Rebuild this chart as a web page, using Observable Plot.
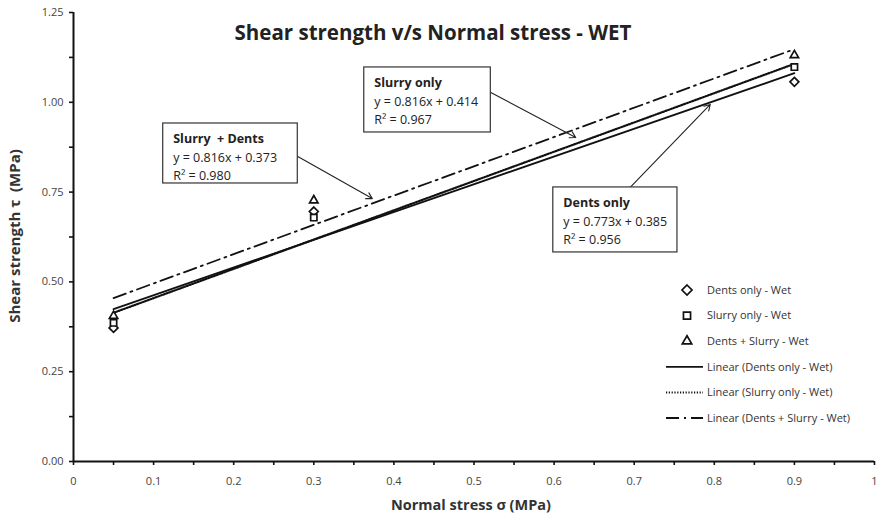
<!DOCTYPE html>
<html>
<head>
<meta charset="utf-8">
<script src="https://cdn.jsdelivr.net/npm/d3@7"></script>
<script src="https://cdn.jsdelivr.net/npm/@observablehq/plot@0.6"></script>
<style>
  html, body { margin: 0; padding: 0; background: #fff; }
  #wrap { position: relative; width: 877px; height: 517px; }
  #wrap svg { position: absolute; left: 0; top: 0; }
</style>
</head>
<body>
<div id="wrap"></div>
<script>
// ---- data ----
const normalStress = [0.05, 0.3, 0.9];
const dentsOnly = [0.372, 0.696, 1.057];
const slurryOnly = [0.386, 0.679, 1.098];
const dentsSlurry = [0.405, 0.727, 1.131];

const trendX = [0.05, 0.9];
const dentsTrend = [0.424, 1.081];
const slurryTrend = [0.414, 1.107];
const comboTrend = [0.455, 1.148];

const xTicks = [0, 0.1, 0.2, 0.3, 0.4, 0.5, 0.6, 0.7, 0.8, 0.9, 1];
const xTickLabels = ["0", "0.1", "0.2", "0.3", "0.4", "0.5", "0.6", "0.7", "0.8", "0.9", "1"];
const yTicks = [0, 0.25, 0.5, 0.75, 1.0, 1.25];
const yTickLabels = ["0.00", "0.25", "0.50", "0.75", "1.00", "1.25"];
const xMinor = [0,0.05,0.1,0.15,0.2,0.25,0.3,0.35,0.4,0.45,0.5,0.55,0.6,0.65,0.7,0.75,0.8,0.85,0.9,0.95,1];
const yMinor = [0,0.125,0.25,0.375,0.5,0.625,0.75,0.875,1,1.125,1.25];

const seriesNames = ["Dents only - Wet", "Slurry only - Wet", "Dents + Slurry - Wet"];
const trendNames = ["Linear (Dents only - Wet)", "Linear (Slurry only - Wet)", "Linear (Dents + Slurry - Wet)"];

// annotation boxes (data units) and their arrows
const annoTitle = ["Slurry only", "Slurry\u00a0 + Dents", "Dents only"];
const annoEq = ["y = 0.816x + 0.414", "y = 0.816x + 0.373", "y = 0.773x + 0.385"];
const annoR2 = ["R\u00b2 = 0.967", "R\u00b2 = 0.980", "R\u00b2 = 0.956"];
const annoBox = [
  {x1: 0.363, x2: 0.521, y1: 0.916, y2: 1.097},
  {x1: 0.112, x2: 0.280, y1: 0.774, y2: 0.941},
  {x1: 0.599, x2: 0.754, y1: 0.582, y2: 0.763}
];
const annoArrow = [
  {x1: 0.521, y1: 1.027, x2: 0.627, y2: 0.902},
  {x1: 0.280, y1: 0.849, x2: 0.373, y2: 0.732},
  {x1: 0.695, y1: 0.763, x2: 0.795, y2: 0.994}
];

// ---- tables ----
const points = [];
normalStress.forEach((x, i) => {
  points.push({x, y: dentsOnly[i], s: seriesNames[0]});
  points.push({x, y: slurryOnly[i], s: seriesNames[1]});
  points.push({x, y: dentsSlurry[i], s: seriesNames[2]});
});
const mkTrend = (arr) => trendX.map((x, i) => ({x, y: arr[i]}));
const annos = annoBox.map((b, i) => ({...b, t: annoTitle[i], eq: annoEq[i], r2: annoR2[i]}));

const font = "'Open Sans', sans-serif";
const symbolOf = {"Dents only - Wet": "diamond2", "Slurry only - Wet": "square2", "Dents + Slurry - Wet": "triangle2"};

const chart = Plot.plot({
  width: 877,
  height: 517,
  marginLeft: 73,
  marginRight: 3,
  marginTop: 12,
  marginBottom: 56,
  style: {fontFamily: font, background: "white", overflow: "visible"},
  x: {domain: [0, 1]},
  y: {domain: [0, 1.25]},
  marks: [
    // minor/major tick marks
    Plot.axisX({ticks: xMinor, tickSize: 4, tickFormat: () => "", label: null, stroke: "#111", strokeWidth: 1.6}),
    Plot.axisY({ticks: yMinor, tickSize: 4, tickFormat: () => "", label: null, stroke: "#111", strokeWidth: 1.6}),
    Plot.axisX({ticks: xTicks, tickSize: 0, tickPadding: 16, tickFormat: (d, i) => xTickLabels[i], label: null, fontSize: 11, fill: "#444"}),
    Plot.axisY({ticks: yTicks, tickSize: 0, tickPadding: 10, tickFormat: (d, i) => yTickLabels[i], label: null, fontSize: 11, fill: "#444"}),
    Plot.ruleY([0], {stroke: "#111", strokeWidth: 2}),
    Plot.ruleX([0], {stroke: "#111", strokeWidth: 2}),
    // trend lines
    Plot.line(mkTrend(dentsTrend), {x: "x", y: "y", stroke: "#111", strokeWidth: 1.8}),
    Plot.line(mkTrend(slurryTrend), {x: "x", y: "y", stroke: "#111", strokeWidth: 2.2, strokeDasharray: "1.2,1.6"}),
    Plot.line(mkTrend(comboTrend), {x: "x", y: "y", stroke: "#111", strokeWidth: 1.8, strokeDasharray: "13,5,2,5"}),
    // points
    Plot.dot(points, {x: "x", y: "y", symbol: d => symbolOf[d.s], r: 4, stroke: "#111", strokeWidth: 1.7, fill: "white"}),
    // annotation arrows
    Plot.arrow(annoArrow, {x1: "x1", y1: "y1", x2: "x2", y2: "y2", stroke: "#222", strokeWidth: 1.1, headLength: 9, bend: 0}),
    // annotation boxes
    Plot.rect(annos, {x1: "x1", x2: "x2", y1: "y1", y2: "y2", fill: "white", stroke: "#333", strokeWidth: 1.2}),
    Plot.text(annos, {x: "x1", y: "y2", text: "t", textAnchor: "start", dx: 10, dy: 16, fontSize: 12.5, fontWeight: "bold", fill: "#222"}),
    Plot.text(annos, {x: "x1", y: "y2", text: "eq", textAnchor: "start", dx: 10, dy: 35, fontSize: 12.5, fill: "#222"}),
    Plot.text(annos, {x: "x1", y: "y2", text: "r2", textAnchor: "start", dx: 10, dy: 53, fontSize: 12.5, fill: "#222"}),
    // titles
    Plot.text(["Shear strength v/s Normal stress - WET"], {frameAnchor: "top", lineAnchor: "middle", dy: 21, dx: -41, fontSize: 20.5, fontWeight: "bold", fill: "#222"}),
    Plot.text(["Normal stress σ (MPa)"], {frameAnchor: "bottom", lineAnchor: "middle", dy: 44, dx: -3, fontSize: 14.5, fontWeight: "bold", fill: "#333"}),
    Plot.text(["Shear strength τ  (MPa)"], {frameAnchor: "left", textAnchor: "middle", lineAnchor: "middle", rotate: -90, dx: -58, dy: -1, fontSize: 15, fontWeight: "bold", fill: "#333"})
  ]
});
document.getElementById("wrap").appendChild(chart);

// ---- legend overlay ----
const leg = d3.select("#wrap").append("svg")
  .attr("width", 877).attr("height", 517)
  .style("pointer-events", "none")
  .style("font-family", font);
const symPath = {
  "Dents only - Wet": d3.symbol(d3.symbolDiamond2, 64)(),
  "Slurry only - Wet": d3.symbol(d3.symbolSquare2, 64)(),
  "Dents + Slurry - Wet": d3.symbol(d3.symbolTriangle2, 64)()
};
const legX = 687, textX = 707, legY0 = 290, legStep = 25.6;
seriesNames.forEach((n, i) => {
  const y = legY0 + i * legStep;
  leg.append("path").attr("d", symPath[n]).attr("transform", `translate(${legX},${y})`)
    .attr("fill", "white").attr("stroke", "#111").attr("stroke-width", 1.7);
  leg.append("text").attr("x", textX).attr("y", y).attr("dy", "0.35em")
    .attr("font-size", 11).attr("fill", "#333").text(n);
});
const dashes = [null, "1.2,1.6", "13,5,2,5"];
trendNames.forEach((n, i) => {
  const y = legY0 + (i + 3) * legStep;
  leg.append("line").attr("x1", 666).attr("x2", 703).attr("y1", y).attr("y2", y)
    .attr("stroke", "#111").attr("stroke-width", i === 1 ? 2 : 1.8)
    .attr("stroke-dasharray", dashes[i]);
  leg.append("text").attr("x", textX).attr("y", y).attr("dy", "0.35em")
    .attr("font-size", 11).attr("fill", "#333").text(n);
});
</script>
</body>
</html>
